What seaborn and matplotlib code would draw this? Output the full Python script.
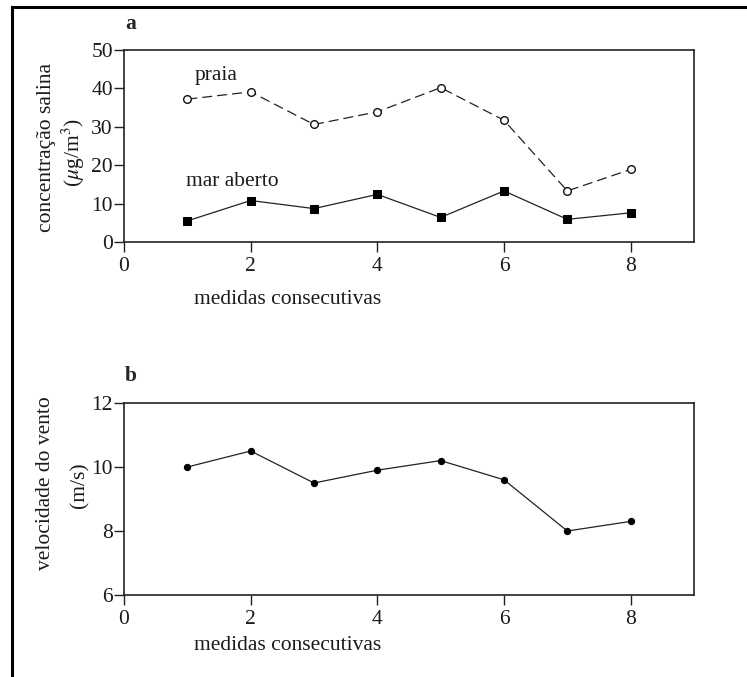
import numpy as np
import pandas as pd
import matplotlib
matplotlib.use("Agg")
import matplotlib.pyplot as plt
from matplotlib.lines import Line2D
import seaborn as sns

# measurement index
medidas = [1, 2, 3, 4, 5, 6, 7, 8]

# salt concentration (µg/m³)
praia = [37.2, 39.1, 30.6, 33.9, 40.2, 31.7, 13.3, 18.9]
mar_aberto = [5.5, 10.8, 8.7, 12.4, 6.4, 13.3, 5.9, 7.6]

# wind speed (m/s)
vento = [10.0, 10.5, 9.5, 9.9, 10.2, 9.6, 8.0, 8.3]

xticks_a = [0, 2, 4, 6, 8]
yticks_a = [0, 10, 20, 30, 40, 50]
yticks_b = [6, 8, 10, 12]

sns.set_theme(style="ticks")
plt.rcParams["font.family"] = ["Liberation Serif", "DejaVu Serif"]
plt.rcParams["mathtext.fontset"] = "stix"

FS = 15.5
TXT = "#1a1a1a"

W, H = 747, 677
fig = plt.figure(figsize=(W / 100, H / 100), dpi=100)


def px_axes(left, top, right, bottom):
    return fig.add_axes([left / W, 1 - bottom / H, (right - left) / W, (bottom - top) / H])


ax_a = px_axes(124, 50, 694, 242)
ax_b = px_axes(124, 403, 694, 595)

df_a = pd.DataFrame({"x": medidas, "praia": praia, "mar": mar_aberto})
df_b = pd.DataFrame({"x": medidas, "vento": vento})

sns.lineplot(data=df_a, x="x", y="praia", ax=ax_a, color="#222222", lw=0.9,
             linestyle=(0, (8, 4)), marker="o", markersize=5.5,
             markerfacecolor="white", markeredgecolor="#111111", markeredgewidth=1.0)
sns.lineplot(data=df_a, x="x", y="mar", ax=ax_a, color="#222222", lw=0.9,
             marker="s", markersize=5.5, markerfacecolor="black",
             markeredgecolor="black")
sns.lineplot(data=df_b, x="x", y="vento", ax=ax_b, color="#222222", lw=0.9,
             marker="o", markersize=4.5, markerfacecolor="black",
             markeredgecolor="black")

for ax in (ax_a, ax_b):
    ax.set_xlim(0, 9)
    ax.set_xticks(xticks_a)
    ax.tick_params(axis="both", direction="out", length=7, width=1,
                   labelsize=FS, colors="#222222", labelcolor=TXT)
    ax.tick_params(axis="x", pad=4)
    ax.tick_params(axis="y", pad=1)
    for s in ax.spines.values():
        s.set_linewidth(1.2)
        s.set_color("#222222")
    ax.set_xlabel("")
    ax.set_ylabel("")

ax_a.set_ylim(0, 50)
ax_a.set_yticks(yticks_a)
ax_b.set_ylim(6, 12)
ax_b.set_yticks(yticks_b)

# series labels
ax_a.text(1.12, 40.8, "praia", fontsize=FS, ha="left", va="bottom", color=TXT)
ax_a.text(0.98, 13.4, "mar aberto", fontsize=FS, ha="left", va="bottom", color=TXT)

# panel letters
fig.text(131 / W, 1 - 24 / H, "a", fontsize=FS, fontweight="bold", ha="center", va="center")
fig.text(131 / W, 1 - 376 / H, "b", fontsize=FS, fontweight="bold", ha="center", va="center")

# axis titles
fig.text(288 / W, 1 - 299 / H, "medidas consecutivas", fontsize=FS, ha="center", va="center", color=TXT)
fig.text(288 / W, 1 - 645 / H, "medidas consecutivas", fontsize=FS, ha="center", va="center", color=TXT)

fig.text(47 / W, 1 - 148 / H, "concentração salina", fontsize=FS, rotation=90,
         ha="center", va="center", color=TXT)
fig.text(73 / W, 1 - 152 / H, r"($\mu$g/m$^3$)", fontsize=FS, rotation=90,
         ha="center", va="center", color=TXT)
fig.text(46 / W, 1 - 483 / H, "velocidade do vento", fontsize=FS, rotation=90,
         ha="center", va="center", color=TXT)
fig.text(80 / W, 1 - 485 / H, "(m/s)", fontsize=FS, rotation=90,
         ha="center", va="center", color=TXT)

# outer frame (left and top edges)
fig.add_artist(Line2D([12 / W, 12 / W], [0, 1 - 7 / H], transform=fig.transFigure,
                      color="black", lw=2.2, solid_capstyle="projecting"))
fig.add_artist(Line2D([12 / W, 1], [1 - 7 / H, 1 - 7 / H], transform=fig.transFigure,
                      color="black", lw=2.2, solid_capstyle="projecting"))

fig.savefig("out.png", dpi=100)
